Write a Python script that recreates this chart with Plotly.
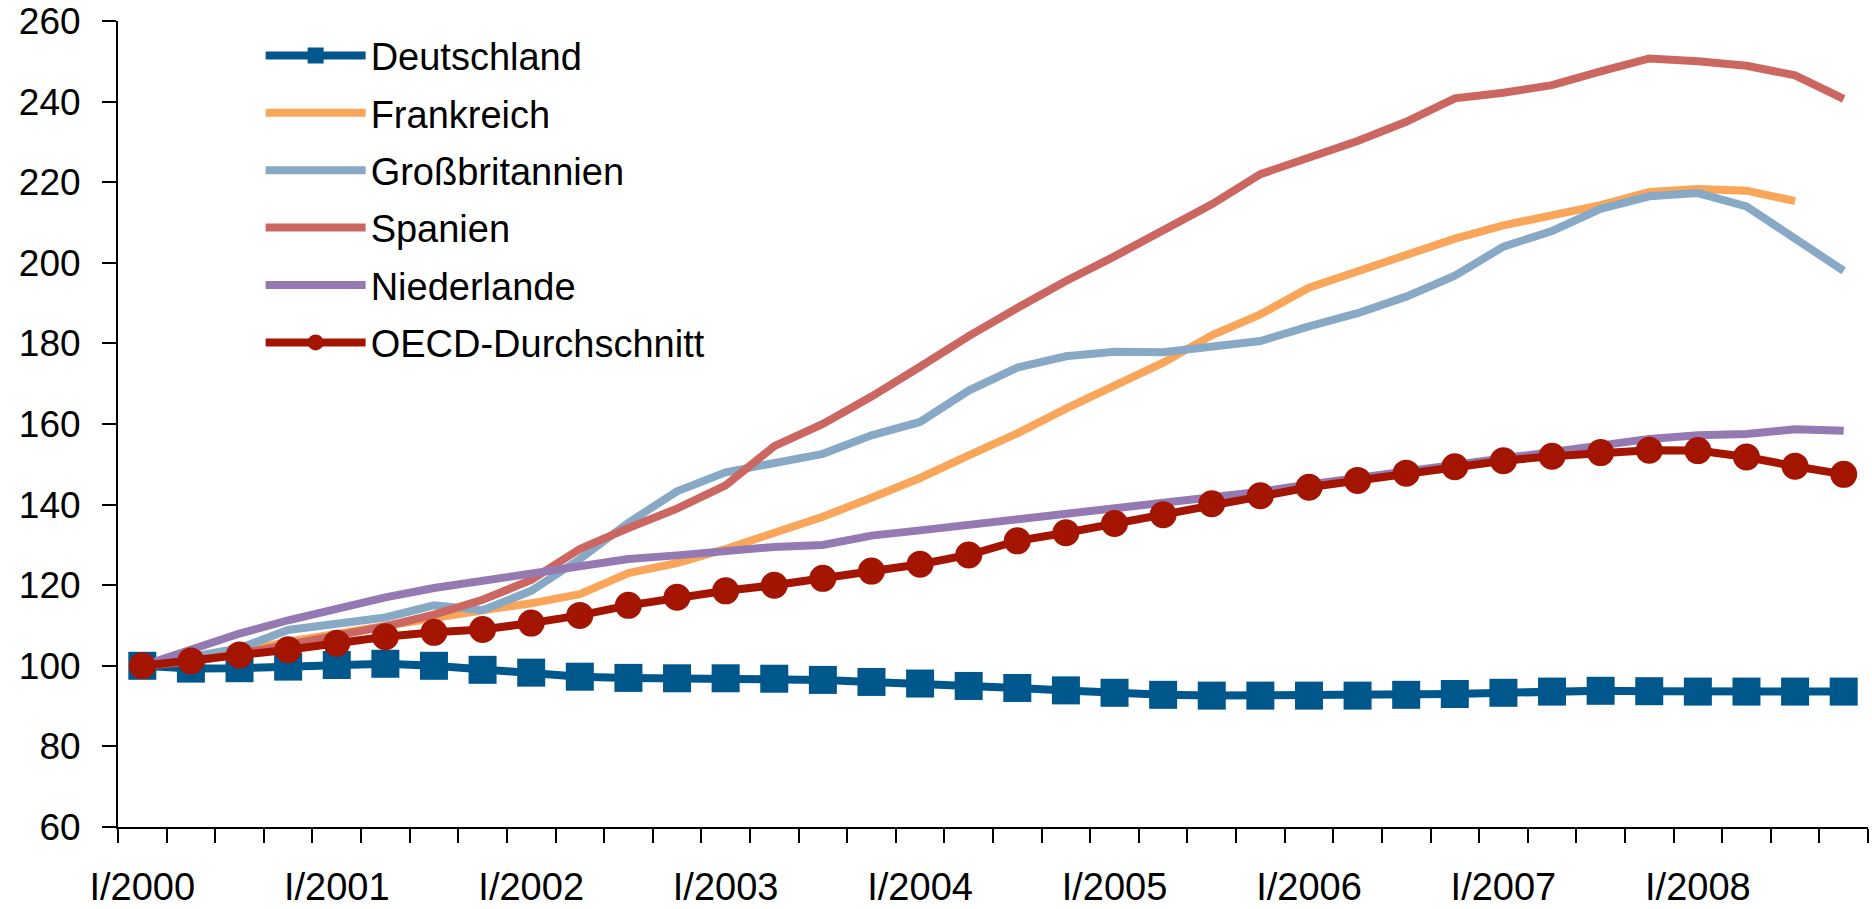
import plotly.graph_objects as go

quarters = [
    "I/2000", "II/2000", "III/2000", "IV/2000",
    "I/2001", "II/2001", "III/2001", "IV/2001",
    "I/2002", "II/2002", "III/2002", "IV/2002",
    "I/2003", "II/2003", "III/2003", "IV/2003",
    "I/2004", "II/2004", "III/2004", "IV/2004",
    "I/2005", "II/2005", "III/2005", "IV/2005",
    "I/2006", "II/2006", "III/2006", "IV/2006",
    "I/2007", "II/2007", "III/2007", "IV/2007",
    "I/2008", "II/2008", "III/2008", "IV/2008",
]
tick_labels = ["I/2000", "I/2001", "I/2002", "I/2003", "I/2004",
               "I/2005", "I/2006", "I/2007", "I/2008"]

deutschland = [100, 99.3, 99.4, 99.8, 100.2, 100.5, 100.0, 99.0, 98.3, 97.3,
               97.0, 96.9, 96.9, 96.8, 96.5, 96.0, 95.6, 95.0, 94.5, 93.9,
               93.3, 92.8, 92.6, 92.6, 92.6, 92.6, 92.8, 93.0, 93.3, 93.6,
               93.8, 93.7, 93.6, 93.6, 93.6, 93.6]
frankreich = [100, 101.5, 103.5, 106.0, 108.0, 110.2, 112.0, 113.8, 115.5, 117.8,
              123.0, 125.5, 129.0, 133.0, 137.0, 141.7, 146.6, 152.2, 157.7, 163.8,
              169.5, 175.2, 182.0, 187.2, 193.8, 197.9, 202.3, 206.0, 209.3, 211.6,
              214.3, 217.6, 218.3, 217.9, 215.3, None]
grossbritannien = [100, 102.3, 104.4, 108.9, 110.2, 112.0, 115.0, 113.8, 118.6, 126.5,
                   135.5, 143.3, 148.0, 150.2, 152.6, 157.2, 160.5, 168.3, 174.0, 176.8,
                   177.9, 177.8, 179.2, 180.6, 184.2, 187.5, 191.6, 196.8, 204.0, 207.9,
                   213.4, 216.5, 217.3, 214.0, 206.0, 198.0]
spanien = [100, 101.0, 103.0, 105.2, 107.3, 109.8, 112.7, 116.4, 121.3, 129.0,
           134.2, 139.0, 144.8, 154.5, 160.0, 166.8, 174.2, 181.8, 188.8, 195.5,
           201.6, 208.3, 214.5, 222.0, 226.0, 230.2, 235.0, 240.8, 242.2, 244.1,
           247.5, 250.7, 250.0, 248.9, 246.5, 240.7]
niederlande = [100, 104.0, 108.0, 111.3, 114.2, 117.0, 119.3, 121.2, 123.0, 124.7,
               126.5, 127.4, 128.5, 129.5, 130.0, 132.3, 133.6, 135.0, 136.4, 137.6,
               138.8, 140.3, 141.7, 143.2, 145.0, 146.6, 148.3, 149.9, 151.6, 153.2,
               154.8, 156.3, 157.2, 157.5, 158.7, 158.3]
oecd = [100, 101.2, 102.7, 104.0, 105.6, 107.2, 108.3, 109.0, 110.6, 112.5,
        115.0, 117.0, 118.6, 120.0, 121.7, 123.5, 125.2, 127.5, 131.0, 133.0,
        135.3, 137.5, 140.2, 142.2, 144.3, 146.0, 147.8, 149.4, 150.9, 152.0,
        152.9, 153.5, 153.4, 151.8, 149.5, 147.5]

series_names = ["Deutschland", "Frankreich", "Großbritannien", "Spanien",
                "Niederlande", "OECD-Durchschnitt"]
series_values = [deutschland, frankreich, grossbritannien, spanien, niederlande, oecd]
series_colors = ["#00578C", "#F9A65A", "#87A9C5", "#CC6660", "#9479B3", "#A31500"]
series_markers = ["square", None, None, None, None, "circle"]

x = list(range(len(quarters)))
tickvals = [quarters.index(t) for t in tick_labels]

FONT = "Liberation Sans, Arial, Helvetica, sans-serif"

fig = go.Figure()
for name, vals, color, sym in zip(series_names, series_values, series_colors, series_markers):
    kw = dict(
        x=x, y=vals, name=name, legendgroup=name,
        line=dict(color=color, width=8),
        customdata=quarters,
        hovertemplate="%{customdata}: %{y}<extra>" + name + "</extra>",
    )
    if sym:
        kw["mode"] = "lines+markers"
        kw["marker"] = dict(symbol=sym, size=27 if sym == "circle" else 28, color=color)
    else:
        kw["mode"] = "lines"
    fig.add_trace(go.Scatter(**kw))

fig.update_layout(
    width=1872, height=909,
    margin=dict(l=118, r=4, t=21, b=82, autoexpand=False),
    paper_bgcolor="white", plot_bgcolor="white",
    font=dict(family=FONT, size=38, color="black"),
    showlegend=True,
    legend=dict(
        x=0.0815, y=0.996, xanchor="left", yanchor="top",
        bgcolor="rgba(0,0,0,0)",
        font=dict(family=FONT, size=38, color="black"),
        traceorder="grouped", tracegroupgap=5,
        itemwidth=100,
    ),
    xaxis=dict(
        range=[-0.5, len(quarters) - 0.5],
        automargin=False,
        tickmode="array", tickvals=tickvals, ticktext=tick_labels,
        ticks="", showgrid=False, zeroline=False,
        showline=True, linecolor="black", linewidth=2,
        ticklabelstandoff=25,
        tickfont=dict(family=FONT, size=38, color="black"),
        minor=dict(tickmode="linear", tick0=-0.5, dtick=1, ticks="outside",
                   ticklen=14, tickwidth=1.5, tickcolor="black", showgrid=False),
    ),
    yaxis=dict(
        range=[60, 260], tickmode="linear", tick0=60, dtick=20,
        automargin=False,
        ticks="outside", ticklen=14, tickwidth=1.5, tickcolor="black",
        showgrid=False, zeroline=False,
        showline=True, linecolor="black", linewidth=2,
        ticklabelstandoff=14,
        tickfont=dict(family=FONT, size=37, color="black"),
    ),
)

fig.write_html("out.html")
